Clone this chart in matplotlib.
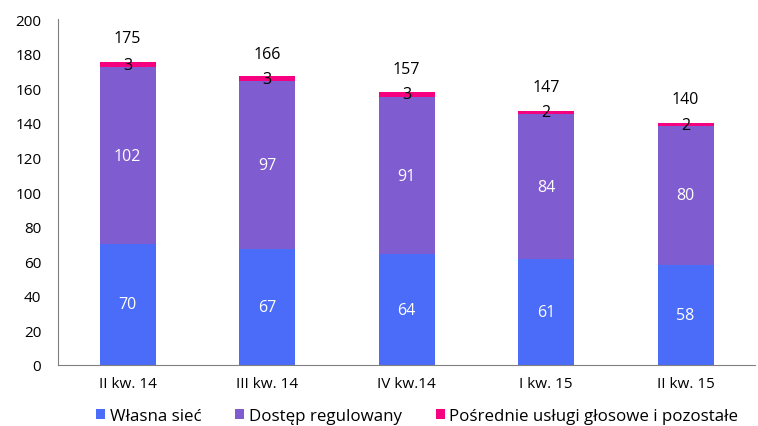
import matplotlib.pyplot as plt
import numpy as np

plt.rcParams['font.family'] = ['Open Sans', 'DejaVu Sans']

quarters = ['II kw. 14', 'III kw. 14', 'IV kw.14', 'I kw. 15', 'II kw. 15']
own_net = [70, 67, 64, 61, 58]
regulated = [102, 97, 91, 84, 80]
indirect = [3, 3, 3, 2, 2]
totals = [175, 166, 157, 147, 140]

c_own = '#4a6cf8'
c_reg = '#7f5ccf'
c_ind = '#f5007f'

x = np.arange(len(quarters))
w = 0.4

fig = plt.figure(figsize=(7.58, 4.27), dpi=100)
ax = fig.add_axes([0.0765, 0.143, 0.92, 0.81])

own_arr = np.array(own_net)
reg_arr = np.array(regulated)
ind_arr = np.array(indirect)

ax.bar(x, own_arr, w, color=c_own, label='Własna sieć')
ax.bar(x, reg_arr, w, bottom=own_arr, color=c_reg, label='Dostęp regulowany')
ax.bar(x, ind_arr, w, bottom=own_arr + reg_arr, color=c_ind,
       label='Pośrednie usługi głosowe i pozostałe')

for i in range(len(x)):
    ax.text(x[i], own_arr[i] / 2, str(own_arr[i]), ha='center', va='center',
            color='white', fontsize=11.5)
    ax.text(x[i], own_arr[i] + reg_arr[i] / 2, str(reg_arr[i]), ha='center',
            va='center', color='white', fontsize=11.5)
    ax.text(x[i], own_arr[i] + reg_arr[i] + ind_arr[i] / 2, str(ind_arr[i]),
            ha='center', va='center', color='black', fontsize=11.5)
    ax.text(x[i], totals[i] + 14, str(totals[i]), ha='center', va='center',
            color='black', fontsize=11.5)

ax.set_xlim(-0.5, 4.5)
ax.set_ylim(0, 200)
ax.set_yticks(range(0, 201, 20))
ax.set_xticks(x)
ax.set_xticklabels(quarters)
ax.tick_params(length=0, labelsize=11, pad=12)
ax.tick_params(axis='x', pad=8)
for s in ['top', 'right']:
    ax.spines[s].set_visible(False)
for s in ['left', 'bottom']:
    ax.spines[s].set_color('#808080')

ax.legend(loc='upper center', bbox_to_anchor=(0.515, -0.08), ncol=3, frameon=False,
          fontsize=12.2, handlelength=0.55, handleheight=0.55, handletextpad=0.25,
          columnspacing=2.0)

fig.savefig('out.png')
